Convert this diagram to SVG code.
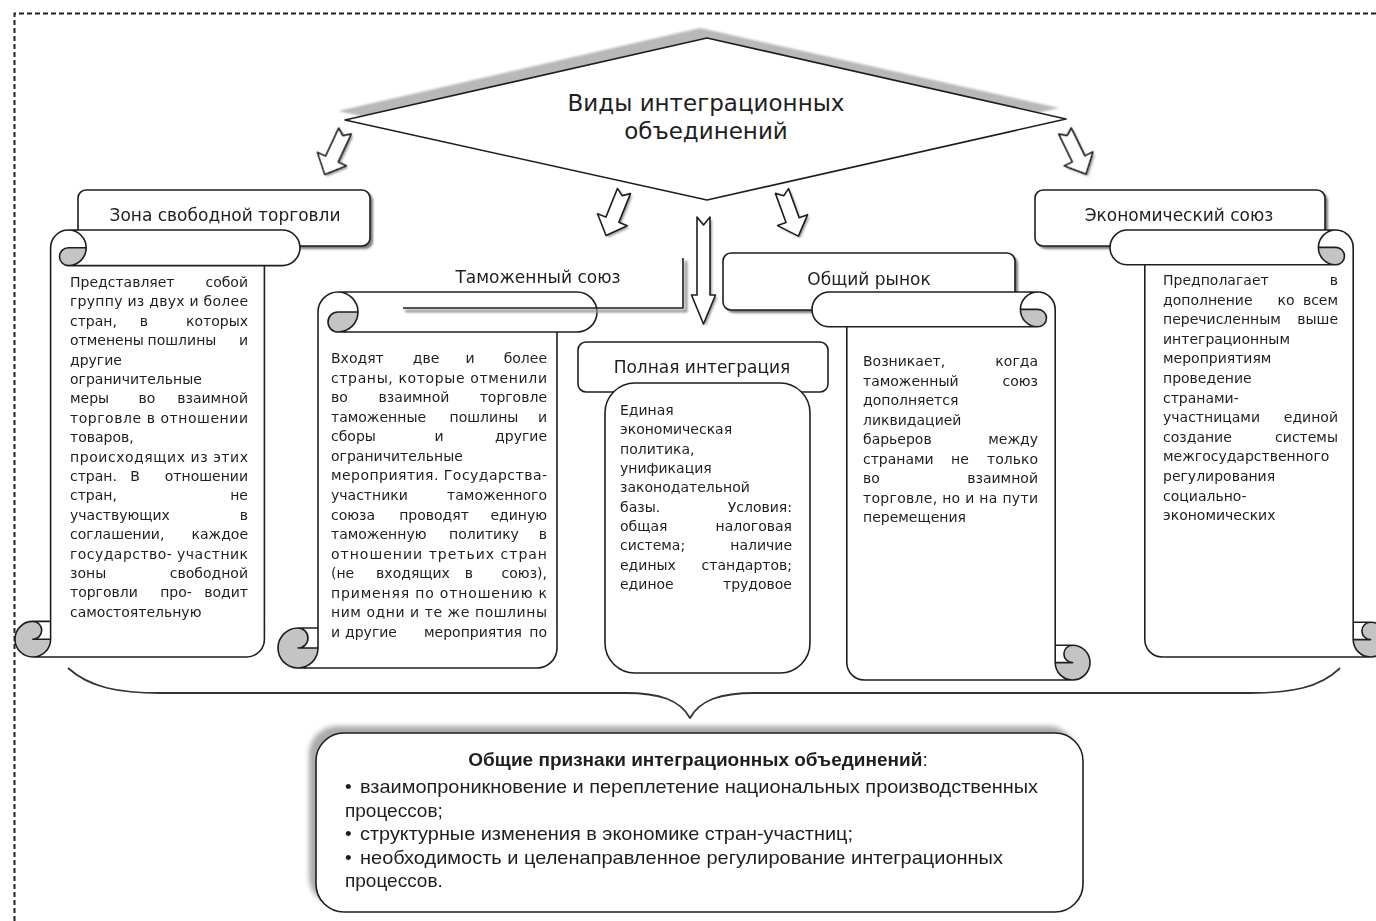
<svg xmlns="http://www.w3.org/2000/svg" xmlns:xlink="http://www.w3.org/1999/xlink" width="1376" height="921" viewBox="0 0 1376 921">
<defs>
<style>
.ln{fill:none;stroke:#1e1e1e;stroke-width:1.6;stroke-linejoin:round}
.wf{fill:#fff;stroke:#1e1e1e;stroke-width:1.6;stroke-linejoin:round}
.wfill{fill:#fff;stroke:none}
.dk{fill:#c4c4c4;stroke:none}
.sh{fill:#7a7a7a}
.t{font-family:"DejaVu Sans",sans-serif;font-size:14px;fill:#1e1e1e}
.e{text-anchor:end}
.m{text-anchor:middle}
.lb{font-family:"DejaVu Sans",sans-serif;font-size:17px;fill:#1e1e1e;text-anchor:middle}
.b{font-family:"Liberation Sans",Arial,sans-serif;font-size:19px;fill:#1e1e1e}
</style>
<filter id="blur1"><feGaussianBlur stdDeviation="1.2"/></filter>
<filter id="blur2"><feGaussianBlur stdDeviation="2.5"/></filter>
<path id="arrD" d="M-7,0 L0,5 L7,0 L7,31 L16,31 L0,48 L-16,31 L-7,31 Z"/>
</defs>

<path d="M14.5,921 L14.5,13.5 L1376,13.5" fill="none" stroke="#222" stroke-width="2" stroke-dasharray="5,3"/>

<g id="node-title">
<polygon points="338,111 700,28 1059,108 700,190" fill="#b8b8b8" filter="url(#blur1)"/>
<polygon points="345,120 707,38 1066,119 707,200" class="wf"/>
<text class="lb" style="font-size:23px" x="706" y="111">Виды интеграционных</text>
<text class="lb" style="font-size:23px" x="706" y="139">объединений</text>
</g>

<g id="connectors">
<g fill="#9a9a9a" filter="url(#blur1)">
<use xlink:href="#arrD" transform="translate(347,133) rotate(25)"/>
<use xlink:href="#arrD" transform="translate(626,193) rotate(22)"/>
<use xlink:href="#arrD" transform="translate(784,193) rotate(-20)"/>
<use xlink:href="#arrD" transform="translate(1067,133) rotate(-26)"/>
<path d="M699,219 L705.5,227 L712,219 L712,297 L717.5,297 L705.5,326 L693.5,297 L699,297 Z"/>
</g>
<use xlink:href="#arrD" class="wf" transform="translate(345,131) rotate(25)"/>
<use xlink:href="#arrD" class="wf" transform="translate(624,191) rotate(22)"/>
<use xlink:href="#arrD" class="wf" transform="translate(782,191) rotate(-20)"/>
<use xlink:href="#arrD" class="wf" transform="translate(1065,131) rotate(-26)"/>
<path class="wf" d="M697,217 L703.5,225 L710,217 L710,295 L715.5,295 L703.5,324 L691.5,295 L697,295 Z"/>
<path class="ln" style="stroke:#333;stroke-width:1.8" d="M68,668 C90,688 120,693 160,693 L625,693 C660,693 680,700 690,718 C700,700 720,693 755,693 L1250,693 C1290,693 1320,688 1340,668"/>
</g>

<g id="node-zst">
<rect x="81" y="193" width="292" height="56" rx="8" class="sh" filter="url(#blur1)"/>
<rect x="78" y="190" width="292" height="56" rx="8" class="wf"/>
<text class="lb" x="225" y="221">Зона свободной торговли</text>
<g transform="translate(15,230)">
<path class="wfill" d="M35.6,391.4 L35.6,17.8 A17.8,17.8 0 0 1 53.4,0 L267.2,0 A17.8,17.8 0 0 1 267.2,35.6 L249.4,35.6 L249.4,409.2 A17.8,17.8 0 0 1 231.6,427 L17.8,427 A17.8,17.8 0 0 1 17.8,391.4 Z"/>
<path class="dk" d="M71.2,17.8 A17.8,17.8 0 0 1 53.4,35.6 A8.9,8.9 0 0 1 53.4,17.8 Z"/>
<path class="dk" d="M35.6,409.2 A17.8,17.8 0 1 1 17.8,391.4 A8.9,8.9 0 0 1 17.8,409.2 Z"/>
<path class="ln" d="M35.6,391.4 L35.6,17.8 A17.8,17.8 0 0 1 53.4,0 L267.2,0 A17.8,17.8 0 0 1 267.2,35.6 L249.4,35.6 L249.4,409.2 A17.8,17.8 0 0 1 231.6,427 L17.8,427 A17.8,17.8 0 0 1 17.8,391.4 Z M53.4,0 A17.8,17.8 0 0 1 53.4,35.6 A8.9,8.9 0 0 1 53.4,17.8 L71.2,17.8 M249.4,35.6 L53.4,35.6 M17.8,391.4 A8.9,8.9 0 0 1 17.8,409.2 L35.6,409.2 M17.8,427 A17.8,17.8 0 0 0 35.6,409.2 L35.6,391.4"/>
</g>
<g class="t">
<text x="70" y="287">Представляет</text><text class="e" x="248" y="287">собой</text>
<text x="70" y="306.4" textLength="178" lengthAdjust="spacing">группу из двух и более</text>
<text x="70" y="325.8">стран,</text><text class="m" x="144" y="325.8">в</text><text class="e" x="248" y="325.8">которых</text>
<text x="70" y="345.2">отменены</text><text class="m" x="182" y="345.2">пошлины</text><text class="e" x="248" y="345.2">и</text>
<text x="70" y="364.6">другие</text>
<text x="70" y="384">ограничительные</text>
<text x="70" y="403.4">меры</text><text class="m" x="147" y="403.4">во</text><text class="e" x="248" y="403.4">взаимной</text>
<text x="70" y="422.8" textLength="178" lengthAdjust="spacing">торговле в отношении</text>
<text x="70" y="442.2">товаров,</text>
<text x="70" y="461.6" textLength="178" lengthAdjust="spacing">происходящих из этих</text>
<text x="70" y="481">стран.</text><text class="m" x="135" y="481">В</text><text class="e" x="248" y="481">отношении</text>
<text x="70" y="500.4">стран,</text><text class="e" x="248" y="500.4">не</text>
<text x="70" y="519.8">участвующих</text><text class="e" x="248" y="519.8">в</text>
<text x="70" y="539.2">соглашении,</text><text class="e" x="248" y="539.2">каждое</text>
<text x="70" y="558.6" textLength="178" lengthAdjust="spacing">государство- участник</text>
<text x="70" y="578">зоны</text><text class="e" x="248" y="578">свободной</text>
<text x="70" y="597.4">торговли</text><text class="m" x="176" y="597.4">про-</text><text class="e" x="248" y="597.4">водит</text>
<text x="70" y="616.8">самостоятельную</text>
</g>
</g>

<g id="node-ts">
<g transform="translate(278,292)">
<path class="wfill" d="M40,336 L40,20 A20,20 0 0 1 60,0 L299,0 A20,20 0 0 1 299,40 L279,40 L279,356 A20,20 0 0 1 259,376 L20,376 A20,20 0 0 1 20,336 Z"/>
<path class="dk" d="M80,20 A20,20 0 0 1 60,40 A10,10 0 0 1 60,20 Z"/>
<path class="dk" d="M40,356 A20,20 0 1 1 20,336 A10,10 0 0 1 20,356 Z"/>
<path class="ln" d="M40,336 L40,20 A20,20 0 0 1 60,0 L299,0 A20,20 0 0 1 299,40 L279,40 L279,356 A20,20 0 0 1 259,376 L20,376 A20,20 0 0 1 20,336 Z M60,0 A20,20 0 0 1 60,40 A10,10 0 0 1 60,20 L80,20 M279,40 L60,40 M20,336 A10,10 0 0 1 20,356 L40,356 M20,376 A20,20 0 0 0 40,356 L40,336"/>
</g>
<path d="M405,311 L686,311 L686,261" fill="none" stroke="#9a9a9a" stroke-width="3" filter="url(#blur1)"/>
<path class="ln" d="M403,308 L683,308 L683,258"/>
<text class="lb" x="538" y="283">Таможенный союз</text>
<g class="t">
<text x="331" y="363">Входят</text><text class="m" x="426" y="363">две</text><text class="m" x="470" y="363">и</text><text class="e" x="547" y="363">более</text>
<text x="331" y="382.6" textLength="216" lengthAdjust="spacing">страны, которые отменили</text>
<text x="331" y="402.1">во</text><text class="m" x="414" y="402.1">взаимной</text><text class="e" x="547" y="402.1">торговле</text>
<text x="331" y="421.7">таможенные</text><text class="m" x="484" y="421.7">пошлины</text><text class="e" x="547" y="421.7">и</text>
<text x="331" y="441.3">сборы</text><text class="m" x="439" y="441.3">и</text><text class="e" x="547" y="441.3">другие</text>
<text x="331" y="460.9">ограничительные</text>
<text x="331" y="480.4" textLength="216" lengthAdjust="spacing">мероприятия. Государства-</text>
<text x="331" y="500">участники</text><text class="e" x="547" y="500">таможенного</text>
<text x="331" y="519.6">союза</text><text class="m" x="434" y="519.6">проводят</text><text class="e" x="547" y="519.6">единую</text>
<text x="331" y="539.1">таможенную</text><text class="m" x="484" y="539.1">политику</text><text class="e" x="547" y="539.1">в</text>
<text x="331" y="558.7" textLength="216" lengthAdjust="spacing">отношении третьих стран</text>
<text x="331" y="578.3">(не</text><text class="m" x="413" y="578.3">входящих</text><text class="m" x="469" y="578.3">в</text><text class="e" x="547" y="578.3">союз),</text>
<text x="331" y="597.8" textLength="216" lengthAdjust="spacing">применяя по отношению к</text>
<text x="331" y="617.4" textLength="216" lengthAdjust="spacing">ним одни и те же пошлины</text>
<text x="331" y="637">и</text><text class="m" x="371" y="637">другие</text><text class="m" x="473" y="637">мероприятия</text><text class="e" x="547" y="637">по</text>
</g>
</g>

<g id="node-or">
<rect x="726" y="256" width="292" height="57" rx="8" class="sh" filter="url(#blur1)"/>
<rect x="723" y="253" width="292" height="57" rx="8" class="wf"/>
<text class="lb" x="869" y="285">Общий рынок</text>
<g transform="translate(1090,292) scale(-1,1)">
<path class="wfill" d="M34.8,353.2 L34.8,17.4 A17.4,17.4 0 0 1 52.2,0 L260.6,0 A17.4,17.4 0 0 1 260.6,34.8 L243.2,34.8 L243.2,370.6 A17.4,17.4 0 0 1 225.8,388 L17.4,388 A17.4,17.4 0 0 1 17.4,353.2 Z"/>
<path class="dk" d="M69.6,17.4 A17.4,17.4 0 0 1 52.2,34.8 A8.7,8.7 0 0 1 52.2,17.4 Z"/>
<path class="dk" d="M34.8,370.6 A17.4,17.4 0 1 1 17.4,353.2 A8.7,8.7 0 0 1 17.4,370.6 Z"/>
<path class="ln" d="M34.8,353.2 L34.8,17.4 A17.4,17.4 0 0 1 52.2,0 L260.6,0 A17.4,17.4 0 0 1 260.6,34.8 L243.2,34.8 L243.2,370.6 A17.4,17.4 0 0 1 225.8,388 L17.4,388 A17.4,17.4 0 0 1 17.4,353.2 Z M52.2,0 A17.4,17.4 0 0 1 52.2,34.8 A8.7,8.7 0 0 1 52.2,17.4 L69.6,17.4 M243.2,34.8 L52.2,34.8 M17.4,353.2 A8.7,8.7 0 0 1 17.4,370.6 L34.8,370.6 M17.4,388 A17.4,17.4 0 0 0 34.8,370.6 L34.8,353.2"/>
</g>
<g class="t">
<text x="863" y="366">Возникает,</text><text class="e" x="1038" y="366">когда</text>
<text x="863" y="385.5">таможенный</text><text class="e" x="1038" y="385.5">союз</text>
<text x="863" y="405">дополняется</text>
<text x="863" y="424.5">ликвидацией</text>
<text x="863" y="444">барьеров</text><text class="e" x="1038" y="444">между</text>
<text x="863" y="463.5">странами</text><text class="m" x="960" y="463.5">не</text><text class="e" x="1038" y="463.5">только</text>
<text x="863" y="483">во</text><text class="e" x="1038" y="483">взаимной</text>
<text x="863" y="502.5" textLength="175" lengthAdjust="spacing">торговле, но и на пути</text>
<text x="863" y="522">перемещения</text>
</g>
</g>

<g id="node-es">
<rect x="1038" y="193" width="290" height="56" rx="8" class="sh" filter="url(#blur1)"/>
<rect x="1035" y="190" width="290" height="56" rx="8" class="wf"/>
<text class="lb" x="1179" y="221">Экономический союз</text>
<g transform="translate(1388,230) scale(-1,1)">
<path class="wfill" d="M34.8,392.2 L34.8,17.4 A17.4,17.4 0 0 1 52.2,0 L260.6,0 A17.4,17.4 0 0 1 260.6,34.8 L243.2,34.8 L243.2,409.6 A17.4,17.4 0 0 1 225.8,427 L17.4,427 A17.4,17.4 0 0 1 17.4,392.2 Z"/>
<path class="dk" d="M69.6,17.4 A17.4,17.4 0 0 1 52.2,34.8 A8.7,8.7 0 0 1 52.2,17.4 Z"/>
<path class="dk" d="M34.8,409.6 A17.4,17.4 0 1 1 17.4,392.2 A8.7,8.7 0 0 1 17.4,409.6 Z"/>
<path class="ln" d="M34.8,392.2 L34.8,17.4 A17.4,17.4 0 0 1 52.2,0 L260.6,0 A17.4,17.4 0 0 1 260.6,34.8 L243.2,34.8 L243.2,409.6 A17.4,17.4 0 0 1 225.8,427 L17.4,427 A17.4,17.4 0 0 1 17.4,392.2 Z M52.2,0 A17.4,17.4 0 0 1 52.2,34.8 A8.7,8.7 0 0 1 52.2,17.4 L69.6,17.4 M243.2,34.8 L52.2,34.8 M17.4,392.2 A8.7,8.7 0 0 1 17.4,409.6 L34.8,409.6 M17.4,427 A17.4,17.4 0 0 0 34.8,409.6 L34.8,392.2"/>
</g>
<g class="t">
<text x="1163" y="285">Предполагает</text><text class="e" x="1338" y="285">в</text>
<text x="1163" y="304.6">дополнение</text><text class="m" x="1286" y="304.6">ко</text><text class="e" x="1338" y="304.6">всем</text>
<text x="1163" y="324.2">перечисленным</text><text class="e" x="1338" y="324.2">выше</text>
<text x="1163" y="343.8">интеграционным</text>
<text x="1163" y="363.4">мероприятиям</text>
<text x="1163" y="383">проведение</text>
<text x="1163" y="402.6">странами-</text>
<text x="1163" y="422.2">участницами</text><text class="e" x="1338" y="422.2">единой</text>
<text x="1163" y="441.8">создание</text><text class="e" x="1338" y="441.8">системы</text>
<text x="1163" y="461.4">межгосударственного</text>
<text x="1163" y="481">регулирования</text>
<text x="1163" y="500.6">социально-</text>
<text x="1163" y="520.2">экономических</text>
</g>
</g>

<g id="node-pi">
<rect x="578" y="342" width="250" height="50" rx="8" class="wf"/>
<text class="lb" x="702" y="373">Полная интеграция</text>
<rect x="605" y="383" width="205" height="290" rx="30" class="wf"/>
<g class="t">
<text x="620" y="415">Единая</text>
<text x="620" y="434.3">экономическая</text>
<text x="620" y="453.7">политика,</text>
<text x="620" y="473">унификация</text>
<text x="620" y="492.3">законодательной</text>
<text x="620" y="511.7">базы.</text><text class="e" x="792" y="511.7">Условия:</text>
<text x="620" y="531">общая</text><text class="e" x="792" y="531">налоговая</text>
<text x="620" y="550.3">система;</text><text class="e" x="792" y="550.3">наличие</text>
<text x="620" y="569.7">единых</text><text class="e" x="792" y="569.7">стандартов;</text>
<text x="620" y="589">единое</text><text class="e" x="792" y="589">трудовое</text>
</g>
</g>

<g id="node-common">
<rect x="309" y="726" width="767" height="179" rx="28" fill="#aaaaaa" filter="url(#blur2)"/>
<rect x="316" y="733" width="767" height="179" rx="28" class="wf"/>
<text class="b m" x="698" y="766"><tspan font-weight="bold">Общие признаки интеграционных объединений</tspan>:</text>
<text class="b" x="345" y="793">•</text>
<text class="b" x="360" y="793" textLength="678" lengthAdjust="spacingAndGlyphs">взаимопроникновение и переплетение национальных производственных</text>
<text class="b" x="345" y="817">процессов;</text>
<text class="b" x="345" y="840">•</text>
<text class="b" x="360" y="840" textLength="493" lengthAdjust="spacingAndGlyphs">структурные изменения в экономике стран-участниц;</text>
<text class="b" x="345" y="864">•</text>
<text class="b" x="360" y="864" textLength="643" lengthAdjust="spacingAndGlyphs">необходимость и целенаправленное регулирование интеграционных</text>
<text class="b" x="345" y="887">процессов.</text>
</g>
</svg>
